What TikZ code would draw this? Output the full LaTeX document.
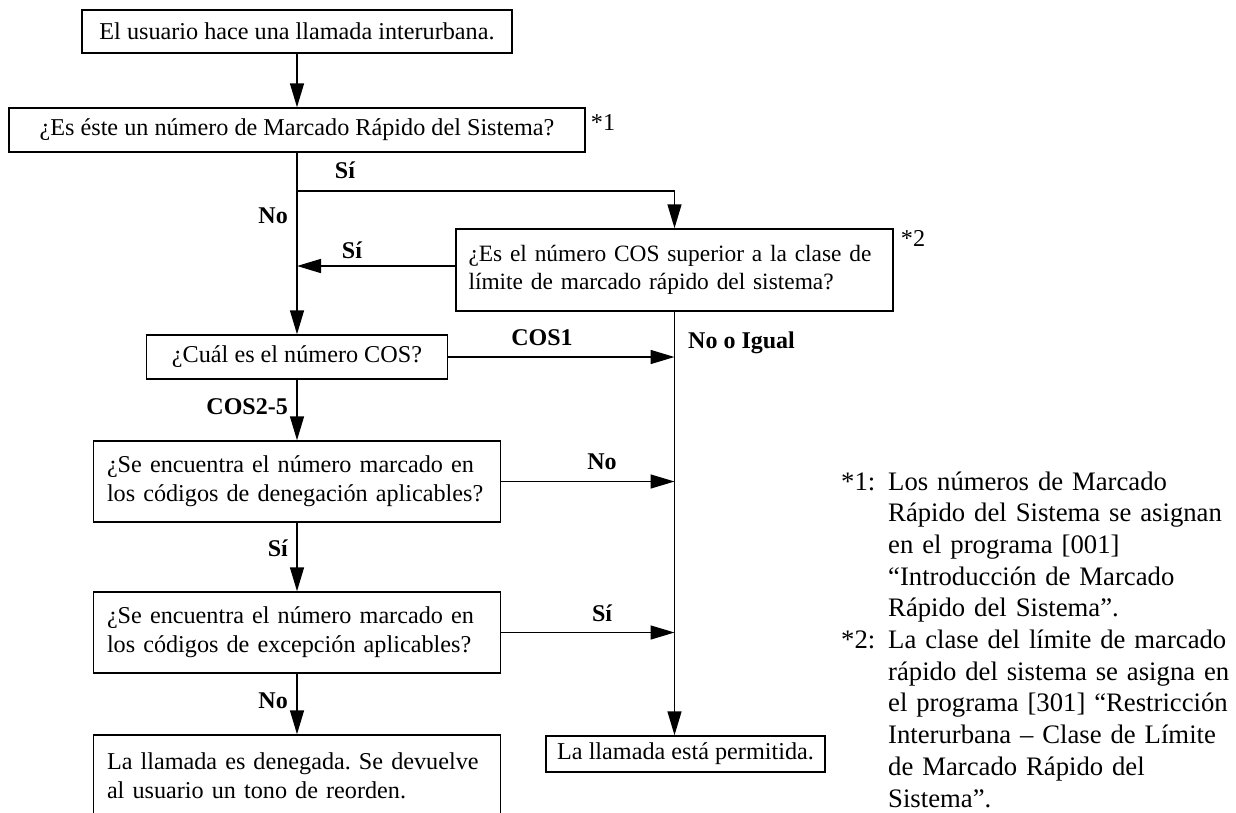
\documentclass[tikz,border=0pt]{standalone}
\usepackage{fontspec}
\setmainfont{Liberation Serif}
\usetikzlibrary{arrows.meta,calc}
\frenchspacing
\begin{document}
\begin{tikzpicture}[x=1pt,y=-1pt,
  box/.style={draw, line width=1.5pt, inner sep=0pt, font=\fontsize{24.2}{28.8}\selectfont},
  lbl/.style={font=\fontsize{24}{28}\selectfont\bfseries, inner sep=0pt},
  starnote/.style={font=\fontsize{24.2}{28.8}\selectfont, inner sep=0pt},
  conn/.style={line width=1.5pt},
  arr/.style={conn, -{Triangle[length=24pt,width=14pt]}},
  note/.style={font=\fontsize{26.7}{31.7}\selectfont, inner sep=0pt, align=left, anchor=base west}
]
\clip (0,0) rectangle (1236,812);
\fill[white] (0,0) rectangle (1236,812);

% boxes
\node[box, minimum width=430pt, minimum height=43pt] (b1) at (297,31.5) {El usuario hace una llamada interurbana.};
\node[box, minimum width=576pt, minimum height=44pt] (b2) at (297,130) {¿Es éste un número de Marcado Rápido del Sistema?};
\node[box, minimum width=437pt, minimum height=82pt, text width=412pt, align=left, font=\fontsize{23.4}{28.4}\selectfont] (b4) at (674.5,270) {¿Es el número COS superior a la clase de\\límite de marcado rápido del sistema?};
\node[box, minimum width=301pt, minimum height=44pt] (b3) at (297,357) {¿Cuál es el número COS?};
\node[box, minimum width=407pt, minimum height=81pt, text width=380pt, align=left] (b5) at (297,481.5) {¿Se encuentra el número marcado en\\los códigos de denegación aplicables?};
\node[box, minimum width=407pt, minimum height=81pt, text width=380pt, align=left] (b6) at (297,632.5) {¿Se encuentra el número marcado en\\los códigos de excepción aplicables?};
\node[box, minimum width=407pt, minimum height=81pt, text width=380pt, align=left] (b7) at (297,775.5) {La llamada es denegada. Se devuelve\\al usuario un tono de reorden.};
\node[box, minimum width=279pt, minimum height=36pt] (perm) at (685.5,754) {La llamada está permitida.};

% markers
\node[starnote] (m1) at (603,123) {*1};
\node[starnote] (m2) at (913,238) {*2};

% connectors
\draw[arr] (b1) -- (b2);
\coordinate (j1) at ($(b2.south)+(0,38)$);
\draw[arr] (b2) -- (b3);
\draw[arr] (j1) -- (j1 -| b4.north) -- (b4.north);
\draw[arr] ($(b4.west)+(0,-4)$) -- ($(b4.west -| b3.north)+(0,-4)$);
\draw[arr] (b3.east) -- (b3.east -| b4.south);
\draw[arr] (b4.south) -- (b4.south |- perm.north);
\draw[arr] (b3) -- (b5);
\draw[arr] (b5.east) -- (b5.east -| b4.south);
\draw[arr] (b5) -- (b6);
\draw[arr] (b6.east) -- (b6.east -| b4.south);
\draw[arr] (b6) -- (b7);

% labels
\node[lbl] (lsi1) at (345,170) {Sí};
\node[lbl, anchor=east] (lno1) at (288,216) {No};
\node[lbl] (lsi2) at (352,250) {Sí};
\node[lbl] (lcos1) at (542,338) {COS1};
\node[lbl, anchor=west] (lnoi) at (688,343) {No o Igual};
\node[lbl, anchor=east] (lcos25) at (288,407) {COS2-5};
\node[lbl] (lno2) at (602,462) {No};
\node[lbl, anchor=east] (lsi3) at (288,548) {Sí};
\node[lbl] (lsi4) at (602,613) {Sí};
\node[lbl, anchor=east] (lno3) at (288,701) {No};

% notes
\node[note] (n1k) at (841,490) {*1:};
\node[note, text width=345pt] (n1) at (888,490) {Los números de Marcado\\Rápido del Sistema se asignan\\en el programa [001]\\“Introducción de Marcado\\Rápido del Sistema”.};
\node[note] (n2k) at (841,648.5) {*2:};
\node[note, text width=345pt] (n2) at (888,648.5) {La clase del límite de marcado\\rápido del sistema se asigna en\\el programa [301] “Restricción\\Interurbana – Clase de Límite\\de Marcado Rápido del\\Sistema”.};
\end{tikzpicture}
\end{document}
